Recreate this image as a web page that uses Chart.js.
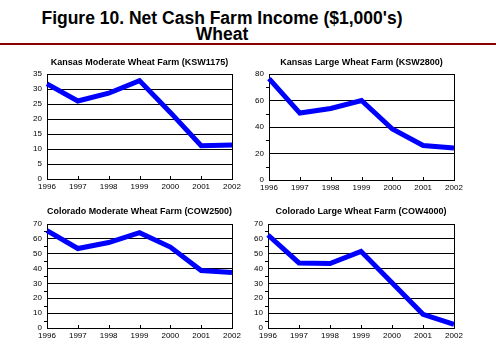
<!DOCTYPE html>
<html>
<head>
<meta charset="utf-8">
<script src="https://cdn.jsdelivr.net/npm/chart.js@4.4.1/dist/chart.umd.min.js"></script>
<style>
  body { margin: 0; background: #fff; width: 496px; height: 348px; position: relative; overflow: hidden; font-family: Arial, "Liberation Sans", sans-serif; }
  .heading { position: absolute; left: 0; width: 444px; text-align: center; font-weight: bold; font-size: 17.5px; color: #000; line-height: 17px; }
  .rule { position: absolute; left: 0; top: 43px; width: 496px; height: 2px; background: #8b0000; }
  canvas { position: absolute; }
</style>
</head>
<body>
<div class="heading" style="top:10px">Figure 10. Net Cash Farm Income ($1,000's)</div>
<div class="heading" style="top:26px">Wheat</div>
<div class="rule"></div>

<canvas id="c1" width="248" height="145" style="left:0;top:50px"></canvas>
<canvas id="c2" width="220" height="146" style="left:250px;top:50px"></canvas>
<canvas id="c3" width="248" height="144" style="left:0;top:200px"></canvas>
<canvas id="c4" width="220" height="144" style="left:250px;top:200px"></canvas>

<script>
const years = ["1996", "1997", "1998", "1999", "2000", "2001", "2002"];

const ksw1175 = [31.7, 26.0, 28.6, 32.8, 22.2, 11.1, 11.3];
const ksw2800 = [76.5, 50.5, 54.0, 60.0, 38.5, 26.0, 24.2];
const cow2500 = [65.5, 53.5, 57.5, 64.2, 54.5, 38.7, 37.3];
const cow4000 = [62.6, 43.8, 43.4, 51.6, 30.5, 9.2, 2.4];

const titles = [
  "Kansas Moderate Wheat Farm (KSW1175)",
  "Kansas Large Wheat Farm (KSW2800)",
  "Colorado Moderate Wheat Farm (COW2500)",
  "Colorado Large Wheat Farm (COW4000)"
];

Chart.defaults.font.family = "Arial, 'Liberation Sans', sans-serif";
Chart.defaults.color = "#000";

// small tick marks: inward on the x axis, outward minor ticks on the y axis
const axisMarks = {
  id: "axisMarks",
  afterDraw(chart, args, opts) {
    const { ctx, chartArea, scales } = chart;
    ctx.save();
    ctx.strokeStyle = "#000";
    ctx.lineWidth = 1;
    ctx.beginPath();
    scales.x.ticks.forEach((t, i) => {
      const x = Math.round(scales.x.getPixelForTick(i)) + 0.5;
      ctx.moveTo(x, chartArea.bottom);
      ctx.lineTo(x, chartArea.bottom - 3);
    });
    if (opts.minor) {
      for (let v = opts.minor; v < scales.y.max; v += opts.minor * 2) {
        const y = Math.round(scales.y.getPixelForValue(v)) + 0.5;
        ctx.moveTo(chartArea.left, y);
        ctx.lineTo(chartArea.left - 3, y);
      }
    }
    ctx.stroke();
    ctx.restore();
  }
};

function makeChart(id, title, values, yMax, step, minor, axisWidth, titlePad) {
  return new Chart(document.getElementById(id), {
    type: "line",
    data: {
      labels: years,
      datasets: [{
        data: values,
        borderColor: "#0000ff",
        borderWidth: 5,
        pointRadius: 0,
        tension: 0,
        fill: false
      }]
    },
    options: {
      responsive: false,
      animation: false,
      layout: { padding: { right: 16, left: 0, top: 0, bottom: 0 } },
      scales: {
        x: {
          offset: false,
          grid: {
            drawTicks: false,
            color: (c) => c.index === years.length - 1 ? "#000" : "transparent"
          },
          border: { display: true, color: "#000", width: 1 },
          ticks: { padding: 3, maxRotation: 0, autoSkip: false, font: { size: 8 } },
          afterFit: (s) => { s.height = 16; }
        },
        y: {
          min: 0,
          max: yMax,
          grid: { color: "#000", lineWidth: 1, drawTicks: false },
          border: { display: true, color: "#000", width: 1 },
          ticks: { stepSize: step, padding: 5, font: { size: 8 } },
          afterFit: (s) => { s.width = axisWidth; }
        }
      },
      plugins: {
        legend: { display: false },
        tooltip: { enabled: false },
        title: {
          display: true,
          text: title,
          fullSize: false,
          color: "#000",
          font: { size: 9, weight: "bold" },
          padding: titlePad
        },
        axisMarks: { minor: minor }
      }
    },
    plugins: [axisMarks]
  });
}

makeChart("c1", titles[0], ksw1175, 35, 5, 0, 47, { top: 7.6, bottom: 5.6 });
makeChart("c2", titles[1], ksw2800, 80, 20, 10, 19, { top: 7.6, bottom: 5.6 });
makeChart("c3", titles[2], cow2500, 70, 10, 5, 47, { top: 6.6, bottom: 6.6 });
makeChart("c4", titles[3], cow4000, 70, 10, 5, 18, { top: 6.6, bottom: 6.6 });
</script>
</body>
</html>
